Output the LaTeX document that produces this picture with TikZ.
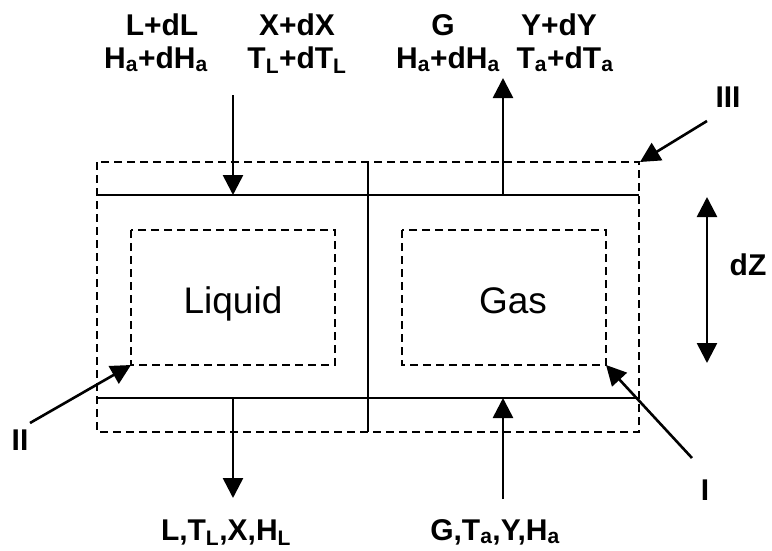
\documentclass[tikz,border=0pt]{standalone}
\usepackage{fontspec}
\setmainfont{Liberation Sans}
\usetikzlibrary{arrows.meta}
\newcommand\sbs[1]{\textsubscript{#1}}
\tikzset{
  solidline/.style={line width=2.8pt},
  dashline/.style={line width=2.6pt, dash pattern=on 8pt off 5pt},
  arr/.style={line width=2.6pt, -{Triangle[length=20pt,width=20pt]}},
  darr/.style={line width=2.6pt, {Triangle[length=20pt,width=20pt]}-{Triangle[length=20pt,width=20pt]}},
  lbl/.style={anchor=base, inner sep=0pt, font=\fontsize{30}{34}\selectfont\bfseries},
  phase/.style={anchor=base, inner sep=0pt, font=\fontsize{37}{42}\selectfont}
}
\begin{document}
\begin{tikzpicture}[x=1pt,y=-1pt]
\useasboundingbox (0,0) rectangle (772,550);
% coordinates
\coordinate (OTL) at (97,162);
\coordinate (OBR) at (639,432);
\coordinate (TopL) at (97,195);
\coordinate (TopR) at (639,195);
\coordinate (BotL) at (97,398);
\coordinate (BotR) at (639,398);
\coordinate (MidT) at (368,162);
\coordinate (MidB) at (368,432);
\coordinate (LqTL) at (131,230);
\coordinate (LqBR) at (335,365);
\coordinate (GsTL) at (402,230);
\coordinate (GsBR) at (606,365);
\coordinate (LqBL) at (131,365);
\coordinate (OTR) at (640,162);
% boxes
\draw[dashline] (OTL) rectangle (OBR);
\draw[dashline] (LqTL) rectangle (LqBR);
\draw[dashline] (GsTL) rectangle (GsBR);
\draw[solidline] (TopL) -- (TopR);
\draw[solidline] (BotL) -- (BotR);
\draw[solidline] (MidT) -- (MidB);
% phase labels
\node[phase] (liq) at (233,313) {Liquid};
\node[phase] (gas) at (513,313) {Gas};
% flow arrows
\coordinate (LinS) at (233,95);
\coordinate (LinE) at (233,195);
\coordinate (LoutS) at (233,398);
\coordinate (LoutE) at (233,498);
\coordinate (GinS) at (503,499);
\coordinate (GinE) at (503,398);
\coordinate (GoutS) at (503,195);
\coordinate (GoutE) at (503,78);
\draw[arr] (LinS) -- (LinE);
\draw[arr] (LoutS) -- (LoutE);
\draw[arr] (GinS) -- (GinE);
\draw[arr] (GoutS) -- (GoutE);
% dZ
\coordinate (dZt) at (707,197);
\coordinate (dZb) at (707,363);
\draw[darr] (dZt) -- (dZb);
\node[lbl] (dZ) at (748,275) {dZ};
% pointers
\coordinate (IIIs) at (707,121);
\coordinate (Is) at (692,458);
\coordinate (IIs) at (30,423);
\draw[arr] (IIIs) -- (OTR);
\draw[arr] (Is) -- (GsBR);
\draw[arr] (IIs) -- (LqBL);
\node[lbl] (III) at (728,107) {III};
\node[lbl] (I) at (705,500) {I};
\node[lbl] (II) at (20,450) {II};
% top labels
\node[lbl] (t1) at (162,35) {L+dL};
\node[lbl] (t2) at (156,68) {H\sbs{a}+dH\sbs{a}};
\node[lbl] (t3) at (297,35) {X+dX};
\node[lbl] (t4) at (297,68) {T\sbs{L}+dT\sbs{L}};
\node[lbl] (t5) at (443,35) {G};
\node[lbl] (t6) at (448,68) {H\sbs{a}+dH\sbs{a}};
\node[lbl] (t7) at (559,35) {Y+dY};
\node[lbl] (t8) at (565,68) {T\sbs{a}+dT\sbs{a}};
% bottom labels
\node[lbl] (b1) at (226,540) {L,T\sbs{L},X,H\sbs{L}};
\node[lbl] (b2) at (495,540) {G,T\sbs{a},Y,H\sbs{a}};
\end{tikzpicture}
\end{document}
